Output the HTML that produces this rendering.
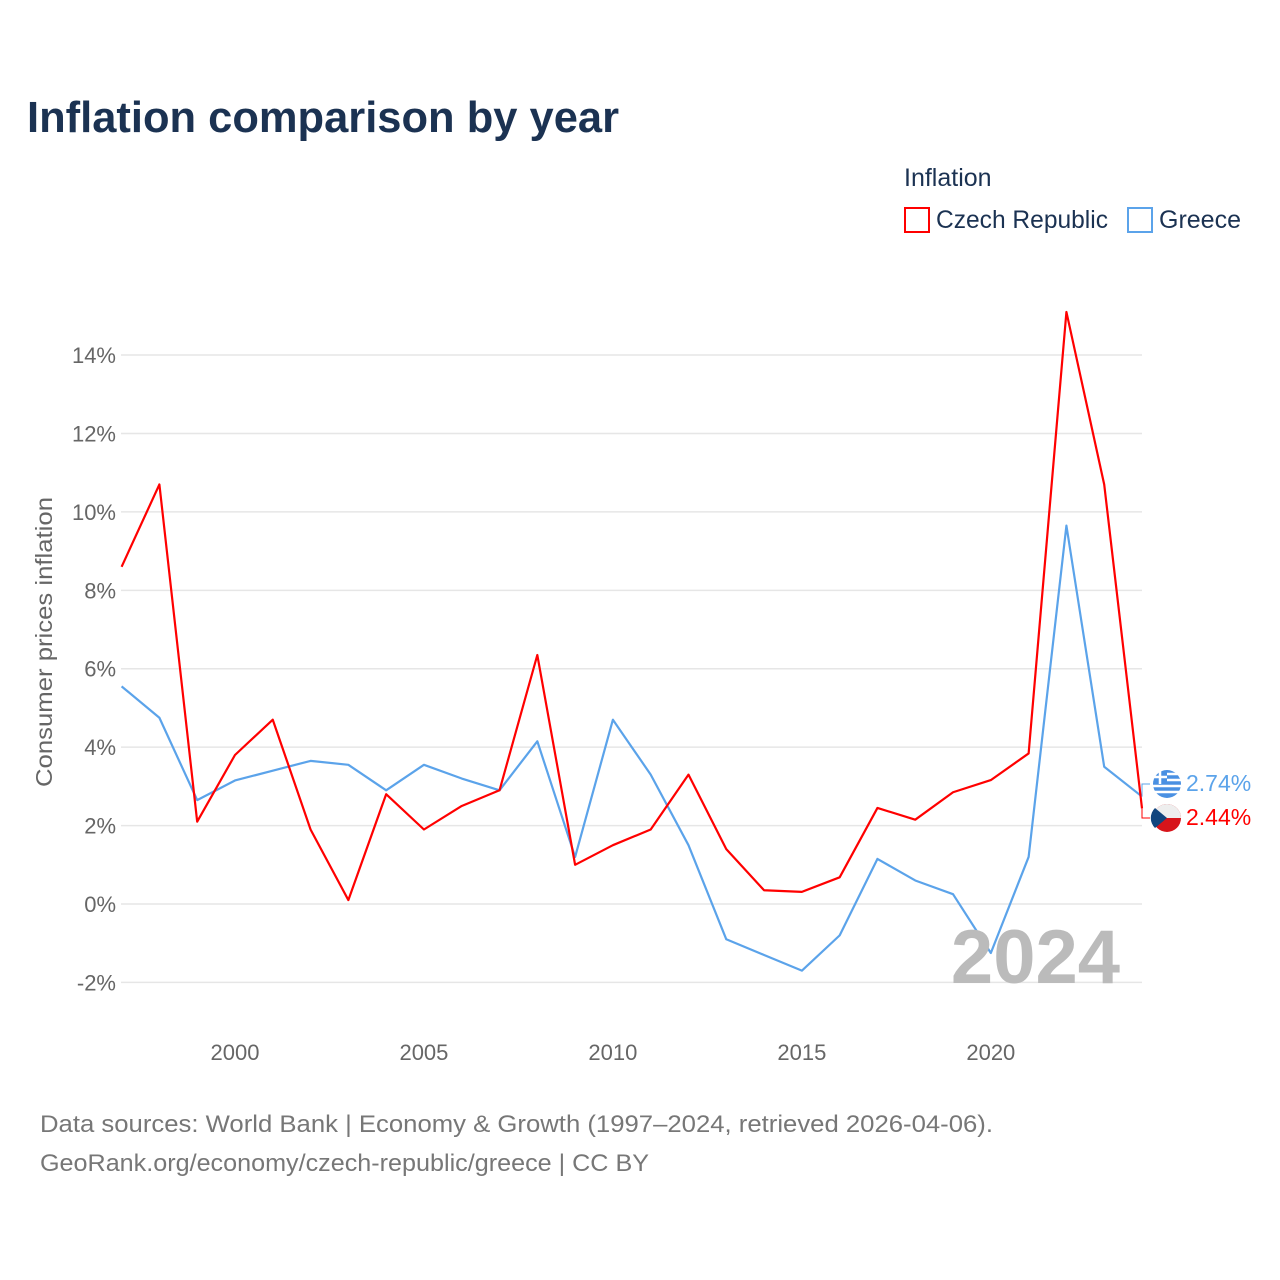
<!DOCTYPE html>
<html><head><meta charset="utf-8">
<style>
body{margin:0;background:#fff;font-family:"Liberation Sans",sans-serif;}
#wrap{position:relative;width:1280px;height:1280px;overflow:hidden;}
</style></head>
<body>
<div id="wrap">
<svg id="chart" width="1280" height="1280">
<text x="27" y="132" font-size="44" font-weight="bold" fill="#1b3252" textLength="592" lengthAdjust="spacingAndGlyphs">Inflation comparison by year</text>
<text x="904" y="186" font-size="25" fill="#1b3252">Inflation</text>
<g><rect x="905" y="208" width="24" height="24" fill="none" stroke="#f00" stroke-width="2"/><text x="936" y="228" font-size="25" fill="#1b3252" textLength="172" lengthAdjust="spacingAndGlyphs">Czech Republic</text></g>
<g><rect x="1128" y="208" width="24" height="24" fill="none" stroke="#5ba3ea" stroke-width="2"/><text x="1159" y="228" font-size="25" fill="#1b3252">Greece</text></g>
<g id="grid"></g><g id="xt"></g><g id="series"></g>
<text x="52" y="642" font-size="23" fill="#666" transform="rotate(-90 52 642)" text-anchor="middle" textLength="290" lengthAdjust="spacingAndGlyphs">Consumer prices inflation</text>
<text x="1120" y="983" font-size="76" font-weight="bold" fill="#bbb" text-anchor="end">2024</text>
<text x="40" y="1132" font-size="24" fill="#777" textLength="953" lengthAdjust="spacingAndGlyphs">Data sources: World Bank | Economy &amp; Growth (1997–2024, retrieved 2026-04-06).</text>
<text x="40" y="1171" font-size="24" fill="#777" textLength="609" lengthAdjust="spacingAndGlyphs">GeoRank.org/economy/czech-republic/greece | CC BY</text>
</svg>
</div>
<script>
const years=[1997,1998,1999,2000,2001,2002,2003,2004,2005,2006,2007,2008,2009,2010,2011,2012,2013,2014,2015,2016,2017,2018,2019,2020,2021,2022,2023,2024];
const czech=[8.6,10.7,2.1,3.8,4.7,1.9,0.1,2.8,1.9,2.5,2.9,6.35,1.0,1.5,1.9,3.3,1.4,0.35,0.31,0.68,2.45,2.15,2.85,3.16,3.84,15.1,10.7,2.44];
const greece=[5.55,4.75,2.65,3.15,3.4,3.65,3.55,2.9,3.55,3.2,2.9,4.15,1.2,4.7,3.3,1.5,-0.9,-1.3,-1.7,-0.8,1.15,0.6,0.25,-1.25,1.2,9.65,3.5,2.74];
const yTicks=[-2,0,2,4,6,8,10,12,14];
const xTicks=[2000,2005,2010,2015,2020];
const NS="http://www.w3.org/2000/svg";
const X=y=>121.6+(y-1997)*(1142-121.6)/27;
const Y=v=>904-v*39.21;
function mk(tag,attrs,parent){const e=document.createElementNS(NS,tag);for(const k in attrs)e.setAttribute(k,attrs[k]);parent.appendChild(e);return e;}
const grid=document.getElementById('grid');
yTicks.forEach(t=>{
 const l=mk('line',{x1:121,x2:1142,y1:Y(t),y2:Y(t),stroke:'#e6e6e6','stroke-width':1.5},grid);
 
 
 const tx=mk('text',{x:116,y:Y(t)+8,'font-size':22,fill:'#666','text-anchor':'end'},grid);
 tx.textContent=t+'%';
 
 
});
const xt=document.getElementById('xt');
xTicks.forEach(t=>{
 const tx=mk('text',{x:X(t),y:1060,'font-size':22,fill:'#666','text-anchor':'middle'},xt);
 tx.textContent=t;
 
 
});
const s=document.getElementById('series');
function line(vals,col,name){
 const p=mk('polyline',{points:vals.map((v,i)=>X(years[i])+','+Y(v)).join(' '),fill:'none',stroke:col,'stroke-width':2.2,'stroke-linejoin':'round'},s);
 
 
}
line(greece,'#5ba3ea','greece-line');
line(czech,'#f00','czech-line');
const gl=greece[greece.length-1], cl=czech[czech.length-1];
const lg=mk('polyline',{points:`${X(2024)},${Y(gl)} 1142,784 1150,784`,fill:'none',stroke:'#5ba3ea','stroke-width':1},s);


const lc=mk('polyline',{points:`${X(2024)},${Y(cl)} 1142,818 1150,818`,fill:'none',stroke:'#f00','stroke-width':1},s);


const g1=mk('text',{x:1186,y:791,'font-size':23,fill:'#5ba3ea'},s);
g1.textContent=gl.toFixed(2)+'%';


const c1=mk('text',{x:1186,y:825,'font-size':23,fill:'#f00'},s);
c1.textContent=cl.toFixed(2)+'%';


const gf=mk('circle',{cx:1167,cy:784,r:14,fill:'#4a90e2'},s);


const gs=mk('path',{d:'M1167,774 H1182 M1167,780 H1182 M1153,786 H1182 M1153,792 H1182 M1160,770 V784 M1153,777 H1167',stroke:'#fff','stroke-width':2.5,fill:'none'},s);


const cf=mk('circle',{cx:1167,cy:818,r:14,fill:'#d7141a'},s);


const cw=mk('path',{d:'M1153,818 A14,14 0 0 1 1181,818 Z',fill:'#eee'},s);


const cb=mk('path',{d:'M1155,808 L1167,818 L1155,828 A14,14 0 0 1 1155,808 Z',fill:'#11457e'},s);


</script>
</body></html>
